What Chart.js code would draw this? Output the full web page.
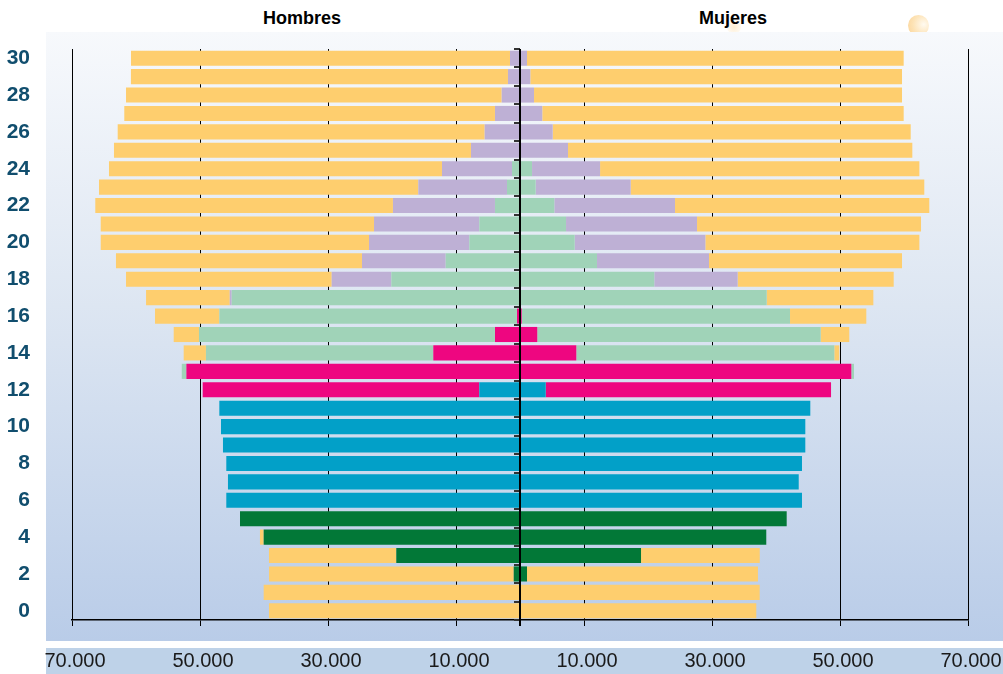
<!DOCTYPE html>
<html lang="es">
<head>
<meta charset="utf-8">
<title>Población por edad, sexo y nivel de estudios</title>
<script src="https://cdn.jsdelivr.net/npm/chart.js@4.4.1/dist/chart.umd.min.js"></script>
<style>
  body { margin: 0; background: #fff; font-family: 'Liberation Sans', Arial, sans-serif; }
  #wrap { position: relative; width: 1003px; height: 674px; overflow: hidden; }
  .bola { position: absolute; border-radius: 50%; }
  #bola1 { left: 908px; top: 15px; width: 21px; height: 21px; background: radial-gradient(circle at 75% 45%, #fffaf0 0%, #fde3b6 55%, #fbd396 100%); }
  #bola2 { left: 727px; top: 20px; width: 14px; height: 14px; background: radial-gradient(circle, rgba(253,226,180,0.6), rgba(253,226,180,0)); }
  #panel { position: absolute; left: 46px; top: 32px; width: 957px; height: 609px;
           background: linear-gradient(180deg, #f7f9fc 0%, #dde6f2 45%, #b9cce8 100%); }
  #banda { position: absolute; left: 46px; top: 648px; width: 957px; height: 26px; background: #bed2e8; }
  .titulo { position: absolute; top: 8px; width: 160px; text-align: center; font-weight: bold;
            font-size: 18px; line-height: 20px; color: #000; }
  canvas { position: absolute; left: 0; top: 0; }
</style>
</head>
<body>
<div id="wrap">
  <div class="bola" id="bola1"></div>
  <div class="bola" id="bola2"></div>
  <div id="panel"></div>
  <div id="banda"></div>
  <div class="titulo" style="left:222px">Hombres</div>
  <div class="titulo" style="left:653px">Mujeres</div>
  <canvas id="grafico" width="1003" height="674"></canvas>
</div>
<script>
// edades 0 a 30
const edades = ['0','1','2','3','4','5','6','7','8','9','10','11','12','13','14','15',
                '16','17','18','19','20','21','22','23','24','25','26','27','28','29','30'];

const ticksX = [-70000, -50000, -30000, -10000, 10000, 30000, 50000, 70000];

// Hombres
const hInfantil    = [0,0,980,19330,40050,43750,0,0,0,0,0,0,0,0,0,0,0,0,0,0,0,0,0,0,0,0,0,0,0,0,0];
const hPrimaria    = [0,0,0,0,0,0,45890,45630,45890,46410,46720,46980,6360,150,0,0,0,0,0,0,0,0,0,0,0,0,0,0,0,0,0];
const hEso         = [0,0,0,0,0,0,0,0,0,0,0,0,43220,51980,13550,3910,470,0,0,0,0,0,0,0,0,0,0,0,0,0,0];
const hSecundaria  = [0,0,0,0,0,0,0,0,0,0,0,0,0,720,35520,46250,46510,45050,20110,11610,7920,6360,3910,2030,1250,0,0,0,0,0,0];
const hUniversidad = [0,0,0,0,0,0,0,0,0,0,0,0,0,0,0,0,0,300,9310,13080,15670,16450,15940,13860,10940,7660,5520,3910,2860,1880,1560];
const hNoEstudia   = [39220,40050,38230,19890,580,0,0,0,0,0,0,0,0,0,3480,3950,10050,13080,32140,38440,41920,42700,46510,49890,52030,55780,57340,57920,58700,58910,59220];

// Mujeres
const mInfantil    = [0,0,1090,18910,38480,41670,0,0,0,0,0,0,0,0,0,0,0,0,0,0,0,0,0,0,0,0,0,0,0,0,0];
const mPrimaria    = [0,0,0,0,0,0,44060,43550,44060,44580,44580,45360,4020,0,0,0,0,0,0,0,0,0,0,0,0,0,0,0,0,0,0];
const mEso         = [0,0,0,0,0,0,0,0,0,0,0,0,44580,51770,8800,2700,270,0,0,0,0,0,0,0,0,0,0,0,0,0,0];
const mSecundaria  = [0,0,0,0,0,0,0,0,0,0,0,0,0,420,40310,44280,41920,38550,20980,12030,8550,7190,5360,2450,1880,0,0,0,0,0,0];
const mUniversidad = [0,0,0,0,0,0,0,0,0,0,0,0,0,0,0,0,0,0,13030,17500,20410,20470,18860,14840,10630,7500,5110,3480,2190,1610,1090];
const mNoEstudia   = [36920,37450,36090,18550,0,0,0,0,0,0,0,0,0,0,780,4470,11920,16660,24380,30160,33440,35000,39730,45880,49890,53800,55940,56470,57500,58080,58860];

const colores = {
  infantil: '#027837',
  primaria: '#02a0c8',
  eso: '#ee0680',
  secundaria: '#a0d3b8',
  universidad: '#beb0d5',
  noEstudia: '#fece6e'
};

function serie(nombre, valores, color, signo) {
  return {
    label: nombre,
    data: valores.map(v => v * signo),
    backgroundColor: color,
    borderWidth: 0,
    stack: 'poblacion',
    barPercentage: 0.82,
    categoryPercentage: 1
  };
}

// eje central (edad) dibujado sobre las barras
const ejeCentral = {
  id: 'ejeCentral',
  afterDatasetsDraw(chart) {
    const { ctx, chartArea, scales: { x, y } } = chart;
    const x0 = Math.round(x.getPixelForValue(0));
    const paso = Math.abs(y.getPixelForValue(1) - y.getPixelForValue(0));
    ctx.save();
    ctx.strokeStyle = '#333';
    ctx.lineWidth = 2;
    for (let i = 0; i < edades.length; i++) {
      const yc = y.getPixelForValue(i);
      [yc - paso / 2, yc + paso / 2].forEach(yy => {
        ctx.beginPath();
        ctx.moveTo(x0 - 6, Math.round(yy));
        ctx.lineTo(x0, Math.round(yy));
        ctx.stroke();
      });
    }
    ctx.strokeStyle = '#000';
    ctx.beginPath();
    ctx.moveTo(x0, chartArea.top);
    ctx.lineTo(x0, chartArea.bottom + 6);
    ctx.stroke();
    ctx.restore();
  }
};

const ctx = document.getElementById('grafico').getContext('2d');
new Chart(ctx, {
  type: 'bar',
  data: {
    labels: edades,
    datasets: [
      serie('Hombres - Infantil', hInfantil, colores.infantil, -1),
      serie('Hombres - Primaria', hPrimaria, colores.primaria, -1),
      serie('Hombres - ESO', hEso, colores.eso, -1),
      serie('Hombres - Secundaria post.', hSecundaria, colores.secundaria, -1),
      serie('Hombres - Universidad', hUniversidad, colores.universidad, -1),
      serie('Hombres - No estudia', hNoEstudia, colores.noEstudia, -1),
      serie('Mujeres - Infantil', mInfantil, colores.infantil, 1),
      serie('Mujeres - Primaria', mPrimaria, colores.primaria, 1),
      serie('Mujeres - ESO', mEso, colores.eso, 1),
      serie('Mujeres - Secundaria post.', mSecundaria, colores.secundaria, 1),
      serie('Mujeres - Universidad', mUniversidad, colores.universidad, 1),
      serie('Mujeres - No estudia', mNoEstudia, colores.noEstudia, 1)
    ]
  },
  options: {
    indexAxis: 'y',
    responsive: false,
    animation: false,
    layout: { padding: { top: 49, right: 35, left: 0, bottom: 0 } },
    plugins: {
      legend: { display: false },
      tooltip: { enabled: false }
    },
    scales: {
      x: {
        type: 'linear',
        stacked: true,
        min: -70000,
        max: 70000,
        afterBuildTicks: axis => { axis.ticks = ticksX.map(v => ({ value: v })); },
        afterFit: axis => {
          axis.height = 54;
          axis.paddingLeft = 0;
          axis.paddingRight = 0;
        },
        ticks: {
          callback: v => Math.abs(v).toLocaleString('de-DE'),
          font: { family: "'Liberation Sans', Arial, sans-serif", size: 20 },
          color: '#1a1a1a',
          padding: 23,
          labelOffset: 3,
          maxRotation: 0
        },
        grid: { color: '#000', lineWidth: 1, drawTicks: true, tickLength: 6, tickColor: '#000' },
        border: { display: true, color: '#000', width: 1.5 }
      },
      y: {
        type: 'category',
        stacked: true,
        reverse: true,
        afterFit: axis => {
          axis.width = 72;
          axis.paddingTop = 0;
          axis.paddingBottom = 0;
        },
        ticks: {
          autoSkip: false,
          callback: (v, i) => (i % 2 === 0 ? edades[i] : ''),
          font: { family: "'Liberation Sans', Arial, sans-serif", size: 21, weight: 'bold' },
          color: '#114e6e',
          padding: 42
        },
        grid: { display: false, drawTicks: false },
        border: { display: false }
      }
    }
  },
  plugins: [ejeCentral]
});
</script>
</body>
</html>
